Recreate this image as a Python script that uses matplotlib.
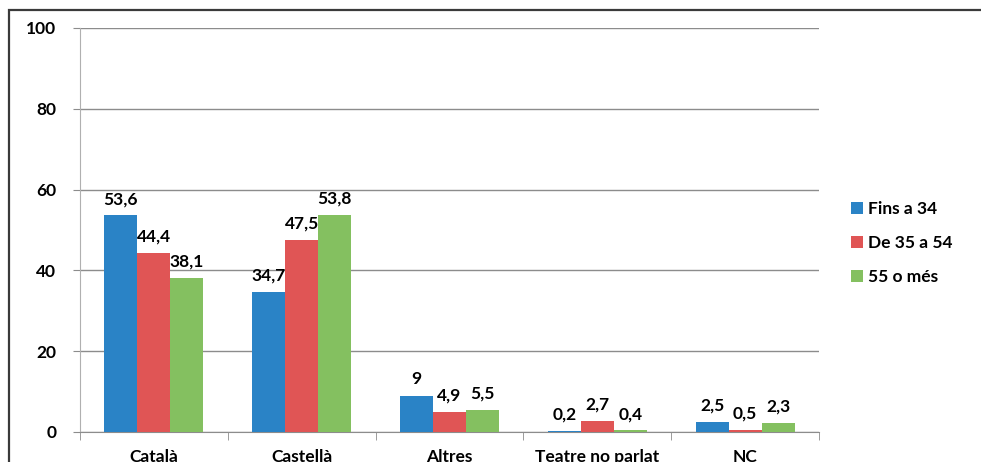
import numpy as np
import matplotlib
matplotlib.use('Agg')
import matplotlib.pyplot as plt
from matplotlib.patches import Rectangle

#%% Data
categories = ['Català', 'Castellà', 'Altres', 'Teatre no parlat', 'NC']
series_names = ['Fins a 34', 'De 35 a 54', '55 o més']
fins34 = [53.6, 34.7, 9, 0.2, 2.5]
de35a54 = [44.4, 47.5, 4.9, 2.7, 0.5]
mes55 = [38.1, 53.8, 5.5, 0.4, 2.3]
label_fins34 = ['53,6', '34,7', '9', '0,2', '2,5']
label_de35a54 = ['44,4', '47,5', '4,9', '2,7', '0,5']
label_mes55 = ['38,1', '53,8', '5,5', '0,4', '2,3']
yticks = [0, 20, 40, 60, 80, 100]

colors = ['#2A83C6', '#E05555', '#84C060']
fs = 12.5

plt.rcParams['font.family'] = ['Lato', 'DejaVu Sans']
plt.rcParams['font.weight'] = 'bold'

fig = plt.figure(figsize=(9.81, 4.62), dpi=100)
ax = fig.add_axes([80/981, 1-432/462, (819-80)/981, (432-28)/462])

x = np.arange(len(categories))
w = 0.223
values = [fins34, de35a54, mes55]
labels = [label_fins34, label_de35a54, label_mes55]
for i in range(3):
    pos = x + (i-1)*w
    bars = ax.bar(pos, values[i], width=w, color=colors[i], label=series_names[i], zorder=3)
    for b, t in zip(bars, labels[i]):
        ax.annotate(t, (b.get_x()+b.get_width()/2, b.get_height()),
                    xytext=(0, 6), textcoords='offset points',
                    ha='center', va='bottom', fontsize=fs, fontweight='bold')

ax.set_xlim(-0.5, len(categories)-0.5)
ax.set_ylim(0, 100)
ax.set_yticks(yticks)
ax.set_yticklabels([str(v) for v in yticks], fontsize=fs, fontweight='bold')
ax.yaxis.grid(True, color='#8c8c8c', linewidth=1, zorder=0)
ax.set_xticks(x)
ax.set_xticklabels(categories, fontsize=fs, fontweight='bold')
ax.set_xticks(np.arange(-0.5, len(categories)), minor=True)
ax.tick_params(axis='x', which='major', length=0, pad=12)
ax.tick_params(axis='x', which='minor', length=6, color='#8c8c8c', direction='out')
ax.tick_params(axis='y', length=5, color='#8c8c8c', pad=12)
for s in ['top', 'right']:
    ax.spines[s].set_visible(False)
ax.spines['left'].set_color('#b0b0b0')
ax.spines['bottom'].set_color('#8c8c8c')

fig.legend(loc='center left', bbox_to_anchor=(844/981, 1-243/462), frameon=False,
           fontsize=fs, handlelength=0.7, handleheight=0.7, handletextpad=0.3,
           labelspacing=1.05, borderaxespad=0)

# outer chart frame (cut off at right and bottom)
fig.patches.append(Rectangle((9/981, -0.1), 1.2, 1-10/462+0.1, transform=fig.transFigure,
                             fill=False, edgecolor='#3a3a3a', linewidth=1.6, clip_on=False))

fig.savefig('out.png', dpi=100)
